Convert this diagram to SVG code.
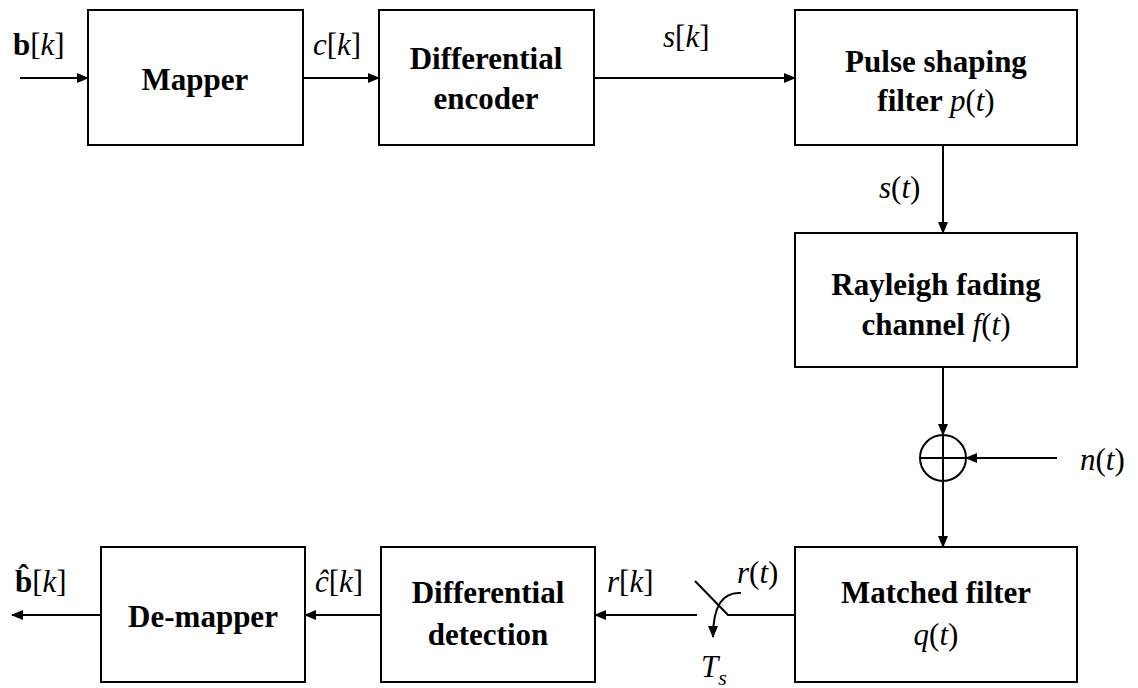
<svg xmlns="http://www.w3.org/2000/svg" width="1138" height="688" viewBox="0 0 1138 688" font-family="Liberation Serif, Times New Roman, DejaVu Serif, Noto Serif, serif">
<defs>
<style>
.box{fill:#fff;stroke:#000;stroke-width:2}
.t{font-size:31px;font-weight:bold;fill:#000;text-anchor:middle}
.m{font-size:31px;fill:#000}
.i{font-style:italic}
.ln{fill:none;stroke:#000;stroke-width:2}
.arr{fill:none;stroke:#000;stroke-width:2;marker-end:url(#ah)}
</style>
<marker id="ah" markerWidth="12" markerHeight="10" refX="11" refY="5" orient="auto" markerUnits="userSpaceOnUse">
<path d="M0,0 L12,5 L0,10 z" fill="#000"/>
</marker>
</defs>
<rect width="1138" height="688" fill="#fff"/>

<g id="connectors">
<line class="arr" x1="20" y1="78" x2="88" y2="78"/>
<line class="arr" x1="303" y1="78" x2="379" y2="78"/>
<line class="arr" x1="594" y1="78" x2="795" y2="78"/>
<line class="arr" x1="943" y1="145" x2="943" y2="233"/>
<line class="arr" x1="943" y1="367" x2="943" y2="435"/>
<line class="arr" x1="1057" y1="458" x2="966" y2="458"/>
<line class="arr" x1="943" y1="481" x2="943" y2="547"/>
<polyline class="ln" points="795,615 728,615 695,581"/>
<line class="arr" x1="697" y1="615" x2="595" y2="615"/>
<path class="arr" d="M741,593 Q713,591 713,637"/>
<line class="arr" x1="381" y1="615" x2="305" y2="615"/>
<line class="arr" x1="101" y1="615" x2="12" y2="615"/>
</g>

<g id="mapper">
<rect class="box" x="88" y="10" width="215" height="135"/>
<text class="t" x="195" y="90">Mapper</text>
</g>
<g id="diff-encoder">
<rect class="box" x="379" y="10" width="215" height="135"/>
<text class="t" x="486" y="69">Differential</text>
<text class="t" x="486" y="109">encoder</text>
</g>
<g id="pulse-shaping">
<rect class="box" x="795" y="10" width="282" height="135"/>
<text class="t" x="936" y="72">Pulse shaping</text>
<text class="t" x="936" y="111">filter <tspan class="i" font-weight="normal">p</tspan><tspan font-weight="normal">(</tspan><tspan class="i" font-weight="normal">t</tspan><tspan font-weight="normal">)</tspan></text>
</g>
<g id="rayleigh">
<rect class="box" x="795" y="233" width="282" height="134"/>
<text class="t" x="936" y="295">Rayleigh fading</text>
<text class="t" x="936" y="335">channel <tspan class="i" font-weight="normal">f</tspan><tspan font-weight="normal">(</tspan><tspan class="i" font-weight="normal">t</tspan><tspan font-weight="normal">)</tspan></text>
</g>
<g id="adder">
<circle cx="943" cy="458" r="23" fill="#fff" stroke="#000" stroke-width="2"/>
<line class="ln" x1="943" y1="435" x2="943" y2="481"/>
<line class="ln" x1="920" y1="458" x2="966" y2="458"/>
</g>
<g id="matched-filter">
<rect class="box" x="795" y="547" width="282" height="135"/>
<text class="t" x="936" y="603">Matched filter</text>
<text class="m" x="936" y="645" text-anchor="middle"><tspan class="i">q</tspan>(<tspan class="i">t</tspan>)</text>
</g>
<g id="diff-detection">
<rect class="box" x="381" y="547" width="214" height="135"/>
<text class="t" x="488" y="603">Differential</text>
<text class="t" x="488" y="645">detection</text>
</g>
<g id="demapper">
<rect class="box" x="101" y="547" width="204" height="135"/>
<text class="t" x="203" y="627">De-mapper</text>
</g>

<g id="labels">
<text class="m" x="13" y="55"><tspan font-weight="bold">b</tspan>[<tspan class="i">k</tspan>]</text>
<text class="m" x="313" y="55"><tspan class="i">c</tspan>[<tspan class="i">k</tspan>]</text>
<text class="m" x="663" y="47"><tspan class="i">s</tspan>[<tspan class="i">k</tspan>]</text>
<text class="m" x="879" y="198"><tspan class="i">s</tspan>(<tspan class="i">t</tspan>)</text>
<text class="m" x="1080" y="470"><tspan class="i">n</tspan>(<tspan class="i">t</tspan>)</text>
<text class="m" x="737" y="583"><tspan class="i">r</tspan>(<tspan class="i">t</tspan>)</text>
<text class="m" x="607" y="592"><tspan class="i">r</tspan>[<tspan class="i">k</tspan>]</text>
<text class="m i" x="701" y="677">T<tspan font-size="22" dy="8">s</tspan></text>
<text class="m" x="315" y="592"><tspan class="i">ĉ</tspan>[<tspan class="i">k</tspan>]</text>
<text class="m" x="15" y="592"><tspan font-weight="bold">b̂</tspan>[<tspan class="i">k</tspan>]</text>
</g>
</svg>
